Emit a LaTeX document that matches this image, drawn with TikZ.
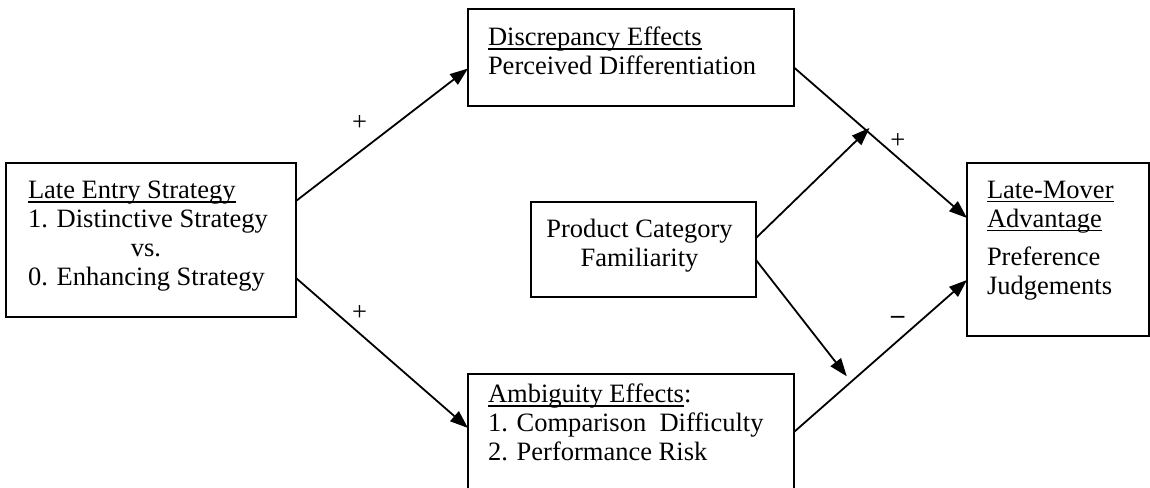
\documentclass[tikz,border=0pt]{standalone}
\usepackage{fontspec}
\setmainfont{Liberation Serif}
\usepackage{tikz}
\usetikzlibrary{calc}
\usetikzlibrary{arrows.meta}

% underline at a fixed depth, crossing the descenders
\newcommand{\ulword}[1]{\setbox0=\hbox{#1}\rlap{\rule[-4pt]{\wd0}{1.7pt}}\box0}

\begin{document}
\begin{tikzpicture}[x=1pt,y=-1pt,
        box/.style={draw,line width=2.2pt,inner sep=0,outer sep=0,anchor=north west},
        txt/.style={inner sep=0,outer sep=0,align=left,font=\fontsize{26.5pt}{29pt}\selectfont},
        arr/.style={line width=1.8pt,-{Triangle[length=18pt,width=13pt]}},
        sign/.style={inner sep=0,font=\fontsize{26.5pt}{29pt}\selectfont}]
        \useasboundingbox (0,0) rectangle (1150,487);

        % boxes
        \node[box,minimum width=290pt,minimum height=154pt] (late) at (6,163) {};
        \node[box,minimum width=326pt,minimum height=97pt] (disc) at (468,9) {};
        \node[box,minimum width=326pt,minimum height=140pt] (amb) at (468,374) {};
        \node[box,minimum width=225pt,minimum height=95pt] (prod) at (531,202) {};
        \node[box,minimum width=182pt,minimum height=173pt] (adv) at (967,163) {};

        % texts
        \node[txt,anchor=north west] (lateTxt) at ([shift={(22,18)}]late.north west)
            {\ulword{Late Entry Strategy}\\1. Distinctive Strategy\\\hbox to 236pt{\hfil vs.\hfil}\\0. Enhancing Strategy};
        \node[txt,anchor=north west] (discTxt) at ([shift={(20,18)}]disc.north west)
            {\ulword{Discrepancy Effects}\\Perceived Differentiation};
        \node[txt,anchor=north west] (ambTxt) at ([shift={(20,10)}]amb.north west)
            {\ulword{Ambiguity Effects}:\\1. Comparison~ Difficulty\\2. Performance Risk};
        \node[txt,align=center,anchor=north] (prodTxt) at ([shift={(-4,17)}]prod.north)
            {Product Category\\Familiarity};
        \node[txt,anchor=north west] (advTxt) at ([shift={(20,18)}]adv.north west)
            {\ulword{Late-Mover}\\\ulword{Advantage}\\[9pt]Preference\\Judgements};

        % connector ends (yshift is upward)
        \coordinate (lateUp) at ([yshift=39pt]late.east);
        \coordinate (lateDn) at ([yshift=-38pt]late.east);
        \coordinate (discIn) at ([yshift=-11pt]disc.west);
        \coordinate (discOut) at ([yshift=-10pt]disc.east);
        \coordinate (ambIn) at ([yshift=16pt]amb.west);
        \coordinate (ambOut) at ([yshift=12pt]amb.west -| amb.east);
        \coordinate (prodUp) at ([yshift=11.5pt]prod.east);
        \coordinate (prodDn) at ([yshift=-10.5pt]prod.east);
        \coordinate (advUp) at ([yshift=31.5pt]adv.west);
        \coordinate (advDn) at ([yshift=-30.5pt]adv.west);
        \coordinate (joinUp) at ($(discOut)!0.42!(advUp)$);
        \coordinate (joinDn) at ($(ambOut)!0.33!(advDn)$);

        \draw[arr] (lateUp) -- node[sign,pos=0.37,yshift=29pt] (plusA) {+} (discIn);
        \draw[arr] (lateDn) -- node[sign,pos=0.37,yshift=20pt] (plusB) {+} (ambIn);
        \draw[arr] (discOut) -- node[sign,pos=0.6,yshift=17pt] (plusC) {+} (advUp);
        \draw[arr] (ambOut) -- node[sign,pos=0.6,yshift=21pt] (minusD) {\textbf{–}} (advDn);
        \draw[arr,shorten >=-4pt] (prodUp) -- (joinUp);
        \draw[arr,shorten >=7pt] (prodDn) -- (joinDn);
\end{tikzpicture}
\end{document}
